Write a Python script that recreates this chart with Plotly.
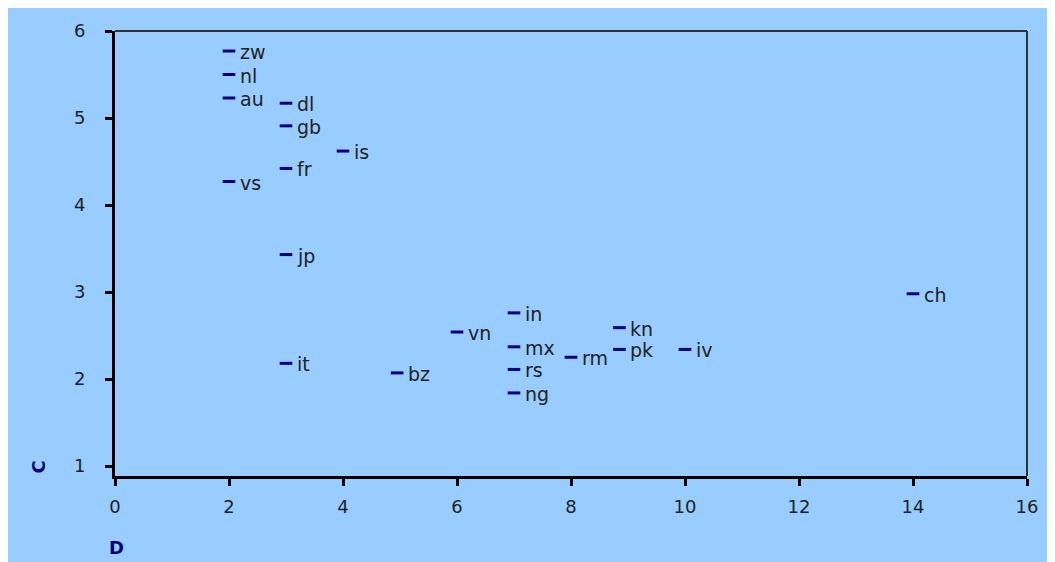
import plotly.graph_objects as go

# country codes and their (D, C) values
codes = ["zw", "nl", "au", "dl", "gb", "is", "fr", "vs", "jp", "it", "bz",
         "vn", "in", "mx", "rs", "ng", "rm", "kn", "pk", "iv", "ch"]
d_vals = [2, 2, 2, 3, 3, 4, 3, 2, 3, 3, 4.95,
          6, 7, 7, 7, 7, 8, 8.85, 8.85, 10, 14]
c_vals = [5.77, 5.50, 5.23, 5.17, 4.91, 4.62, 4.42, 4.27, 3.43, 2.18, 2.07,
          2.54, 2.76, 2.37, 2.11, 1.84, 2.25, 2.59, 2.34, 2.34, 2.98]

x_ticks = [0, 2, 4, 6, 8, 10, 12, 14, 16]
y_ticks = [1, 2, 3, 4, 5, 6]

BG = "#99CCFF"
NAVY = "#000080"
FONT = "DejaVu Sans"

fig = go.Figure()
fig.add_trace(go.Scatter(
    x=d_vals, y=c_vals, text=codes,
    mode="markers",
    marker=dict(symbol="line-ew", size=9, color=NAVY,
                line=dict(color=NAVY, width=3)),
    hoverinfo="x+y+text",
    showlegend=False,
))

# labels just right of each dash
for code, dx, cy in zip(codes, d_vals, c_vals):
    fig.add_annotation(x=dx, y=cy, text=code, showarrow=False,
                       xanchor="left", yanchor="middle", xshift=9, yshift=-1,
                       font=dict(family=FONT, size=19, color="#222222"))

axis_common = dict(
    showgrid=False, zeroline=False,
    showline=True, linecolor="black", linewidth=3,
    ticks="outside", ticklen=7, tickwidth=3, tickcolor="black",
    tickfont=dict(family=FONT, size=18, color="#222222"),
)

fig.update_xaxes(range=[0, 16], tickvals=x_ticks, ticklabelstandoff=5, **axis_common)
fig.update_yaxes(range=[0.885, 6], tickvals=y_ticks, ticklabelstandoff=16, **axis_common)

# thin top and right border of the plot frame
fig.add_shape(type="line", xref="paper", yref="paper",
              x0=0, x1=1, y0=1, y1=1, line=dict(color="#333333", width=2))
fig.add_shape(type="line", xref="paper", yref="paper",
              x0=1, x1=1, y0=0, y1=1, line=dict(color="#333333", width=2))

# axis titles
fig.add_annotation(text="<b>C</b>", xref="paper", yref="paper",
                   x=-0.084, y=0.02, xanchor="center", yanchor="middle",
                   textangle=-90, showarrow=False,
                   font=dict(family=FONT, size=18, color=NAVY))
fig.add_annotation(text="<b>D</b>", xref="paper", yref="paper",
                   x=0.002, y=-0.161, xanchor="center", yanchor="middle",
                   showarrow=False,
                   font=dict(family=FONT, size=18, color=NAVY))

fig.update_layout(
    width=1055, height=562,
    margin=dict(l=107, r=36, t=15, b=94),
    paper_bgcolor=BG,
    plot_bgcolor=BG,
)

fig.write_html("out.html")
